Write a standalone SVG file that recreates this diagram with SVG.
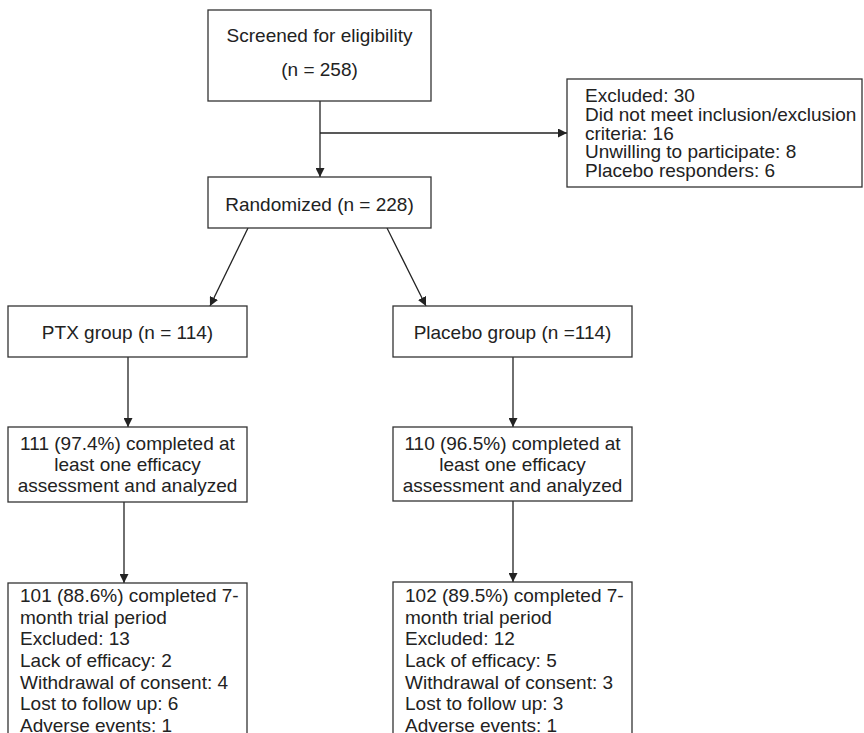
<svg xmlns="http://www.w3.org/2000/svg" width="864" height="733" viewBox="0 0 864 733">
<defs>
<marker id="arr" viewBox="0 0 10 10" refX="10" refY="5" markerWidth="9" markerHeight="9" markerUnits="userSpaceOnUse" orient="auto">
<path d="M0,0 L10,5 L0,10 z" fill="#222"/>
</marker>
<style>
.box{fill:#fff;stroke:#333;stroke-width:1.3}
.t{font-family:"Liberation Sans",Arial,sans-serif;font-size:19px;fill:#222}
.c{text-anchor:middle}
.ln{stroke:#222;stroke-width:1.3;fill:none}
</style>
</defs>
<rect width="864" height="733" fill="#fff"/>
<g id="connectors">
<line class="ln" x1="320" y1="101" x2="320" y2="177" marker-end="url(#arr)"/>
<line class="ln" x1="320" y1="133" x2="567" y2="133" marker-end="url(#arr)"/>
<line class="ln" x1="248" y1="228" x2="210" y2="306" marker-end="url(#arr)"/>
<line class="ln" x1="387" y1="228" x2="426" y2="306" marker-end="url(#arr)"/>
<line class="ln" x1="128" y1="357" x2="128" y2="427" marker-end="url(#arr)"/>
<line class="ln" x1="513" y1="357" x2="513" y2="427" marker-end="url(#arr)"/>
<line class="ln" x1="124" y1="502" x2="124" y2="583" marker-end="url(#arr)"/>
<line class="ln" x1="513" y1="501" x2="513" y2="582" marker-end="url(#arr)"/>
</g>
<g id="screened">
<rect class="box" x="208" y="10" width="223" height="91"/>
<text class="t c" x="319.5" y="42">Screened for eligibility</text>
<text class="t c" x="319.5" y="76">(n = 258)</text>
</g>
<g id="excluded">
<rect class="box" x="567" y="79" width="295" height="108"/>
<text class="t" x="585" y="102">Excluded: 30</text>
<text class="t" x="585" y="121">Did not meet inclusion/exclusion</text>
<text class="t" x="585" y="139.5">criteria: 16</text>
<text class="t" x="585" y="158">Unwilling to participate: 8</text>
<text class="t" x="585" y="177">Placebo responders: 6</text>
</g>
<g id="randomized">
<rect class="box" x="208" y="177" width="223" height="51"/>
<text class="t c" x="319.5" y="211">Randomized (n = 228)</text>
</g>
<g id="ptx">
<rect class="box" x="8" y="306" width="239" height="51"/>
<text class="t c" x="127.5" y="339">PTX group (n = 114)</text>
</g>
<g id="placebo">
<rect class="box" x="393" y="306" width="239" height="51"/>
<text class="t c" x="512.5" y="339">Placebo group (n =114)</text>
</g>
<g id="ptx-completed">
<rect class="box" x="8" y="427" width="239" height="75"/>
<text class="t c" x="127.5" y="450">111 (97.4%) completed at</text>
<text class="t c" x="127.5" y="471">least one efficacy</text>
<text class="t c" x="127.5" y="492">assessment and analyzed</text>
</g>
<g id="placebo-completed">
<rect class="box" x="393" y="427" width="239" height="74"/>
<text class="t c" x="512.5" y="450">110 (96.5%) completed at</text>
<text class="t c" x="512.5" y="471">least one efficacy</text>
<text class="t c" x="512.5" y="492">assessment and analyzed</text>
</g>
<g id="ptx-final">
<rect class="box" x="8" y="583" width="239" height="170"/>
<text class="t" x="20" y="602">101 (88.6%) completed 7-</text>
<text class="t" x="20" y="624">month trial period</text>
<text class="t" x="20" y="645">Excluded: 13</text>
<text class="t" x="20" y="667">Lack of efficacy: 2</text>
<text class="t" x="20" y="689">Withdrawal of consent: 4</text>
<text class="t" x="20" y="710">Lost to follow up: 6</text>
<text class="t" x="20" y="732">Adverse events: 1</text>
</g>
<g id="placebo-final">
<rect class="box" x="393" y="582" width="239" height="170"/>
<text class="t" x="405" y="602">102 (89.5%) completed 7-</text>
<text class="t" x="405" y="624">month trial period</text>
<text class="t" x="405" y="645">Excluded: 12</text>
<text class="t" x="405" y="667">Lack of efficacy: 5</text>
<text class="t" x="405" y="689">Withdrawal of consent: 3</text>
<text class="t" x="405" y="710">Lost to follow up: 3</text>
<text class="t" x="405" y="732">Adverse events: 1</text>
</g>
</svg>
